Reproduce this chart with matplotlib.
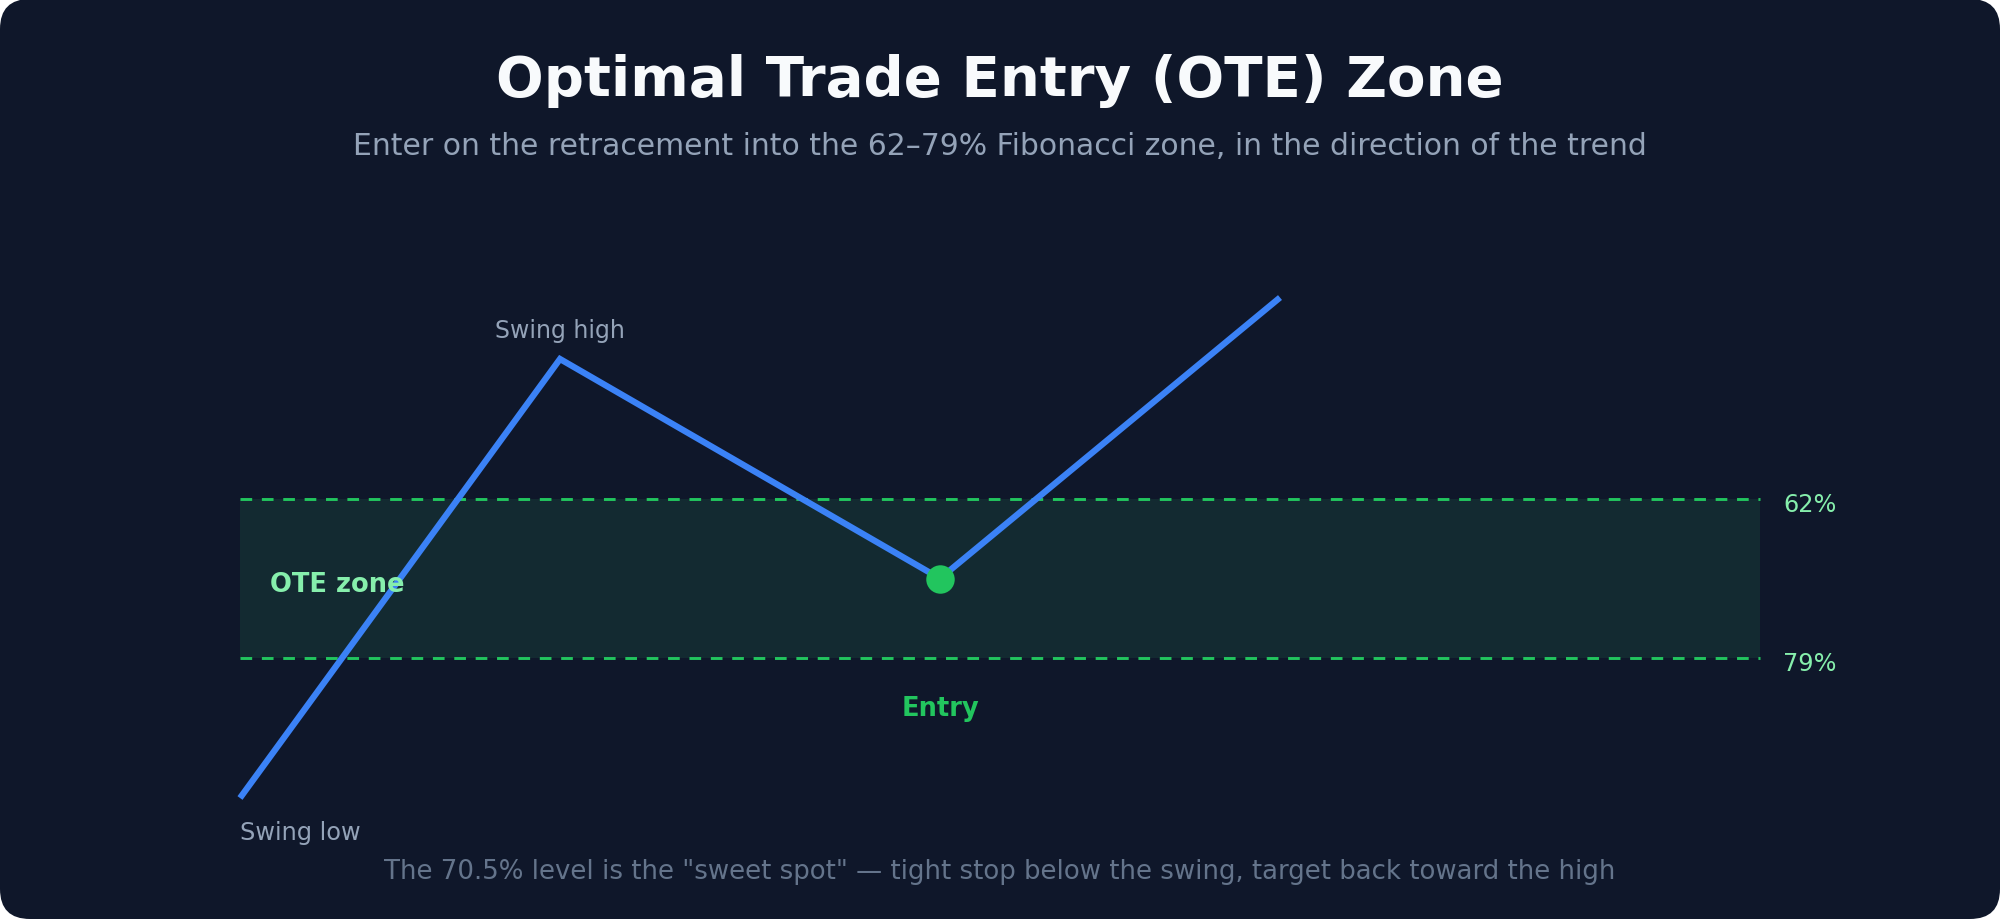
import matplotlib
matplotlib.use("Agg")
import matplotlib.pyplot as plt
from matplotlib.patches import FancyBboxPatch, Rectangle
from matplotlib.transforms import IdentityTransform

# ---- data ----
bar_index = [0, 32, 70, 104]          # swing low, swing high, entry, continuation
price = [0, 100, 50, 114]
zone_top = 68      # 62% level
zone_bottom = 32   # 79% level
zone_x = [0, 152]
level_labels = ["62%", "79%"]
title = "Optimal Trade Entry (OTE) Zone"
subtitle = "Enter on the retracement into the 62\u201379% Fibonacci zone, in the direction of the trend"
footer = 'The 70.5% level is the "sweet spot" \u2014 tight stop below the swing, target back toward the high'

BG = "#0f172a"
BLUE = "#3b82f6"
GREEN = "#22c55e"
LIGHTGREEN = "#86efac"
GREY = "#94a3b8"
DARKGREY = "#64748b"
ZONE = "#132a31"

W, H = 2000, 920
fig = plt.figure(figsize=(20, 9.2), dpi=100, facecolor="white")
bg = FancyBboxPatch((0, 0), W, H, boxstyle="round,pad=0,rounding_size=30",
                    transform=IdentityTransform(), facecolor=BG, edgecolor="none", zorder=-10)
fig.patches.append(bg)

ax = fig.add_axes([0, 0, 1, 1])
ax.set_facecolor("none")
# pixel mapping: x_px = 240 + 10*x ; y_px_from_bottom = 121 + 4.39*y
sx, ox = 10.0, 240.0
sy, oy = 4.39, 121.0
ax.set_xlim((0 - ox) / sx, (W - ox) / sx)
ax.set_ylim((0 - oy) / sy, (H - oy) / sy)
ax.axis("off")

# zone
ax.add_patch(Rectangle((zone_x[0], zone_bottom), zone_x[1] - zone_x[0], zone_top - zone_bottom,
                       facecolor=ZONE, edgecolor="none", zorder=1))
for lvl in (zone_top, zone_bottom):
    ax.plot(zone_x, [lvl, lvl], color=GREEN, lw=2.1, dashes=(4, 3.33), zorder=2,
            solid_capstyle="butt", dash_capstyle="butt")

# price path
ax.plot(bar_index, price, color=BLUE, lw=4.5, solid_joinstyle="miter",
        solid_capstyle="butt", zorder=3)
ax.plot([bar_index[2]], [price[2]], "o", color=GREEN, markersize=20.5,
        markeredgewidth=0, zorder=4)

def px(x, y):
    return x / W, 1 - y / H

fig.text(*px(1000, 96), title, ha="center", va="baseline", fontsize=40.5,
         fontweight="bold", color="#f8fafc")
fig.text(*px(1000, 155), subtitle, ha="center", va="baseline", fontsize=21.5, color=GREY)

ax.annotate("Swing high", (bar_index[1], price[1]), xytext=(0, 22), textcoords="offset pixels",
            ha="center", va="baseline", fontsize=17, color=GREY)
ax.annotate("Swing low", (bar_index[0], price[0]), xytext=(0, -41), textcoords="offset pixels",
            ha="left", va="baseline", fontsize=17.3, color=GREY)
ax.annotate("Entry", (bar_index[2], price[2]), xytext=(0, -136), textcoords="offset pixels",
            ha="center", va="baseline", fontsize=18.5, fontweight="bold", color=GREEN)
ax.annotate("OTE zone", (zone_x[0], (zone_top + zone_bottom) / 2), xytext=(30, -12),
            textcoords="offset pixels", ha="left", va="baseline", fontsize=18.5,
            fontweight="bold", color=LIGHTGREEN)
for lvl, lab in zip((zone_top, zone_bottom), level_labels):
    ax.annotate(lab, (zone_x[1], lvl), xytext=(23, -12), textcoords="offset pixels",
                ha="left", va="baseline", fontsize=17.3, color=LIGHTGREEN)

fig.text(*px(1000, 879), footer, ha="center", va="baseline", fontsize=18.7, color=DARKGREY)

fig.savefig("out.png", dpi=100, facecolor="white")
